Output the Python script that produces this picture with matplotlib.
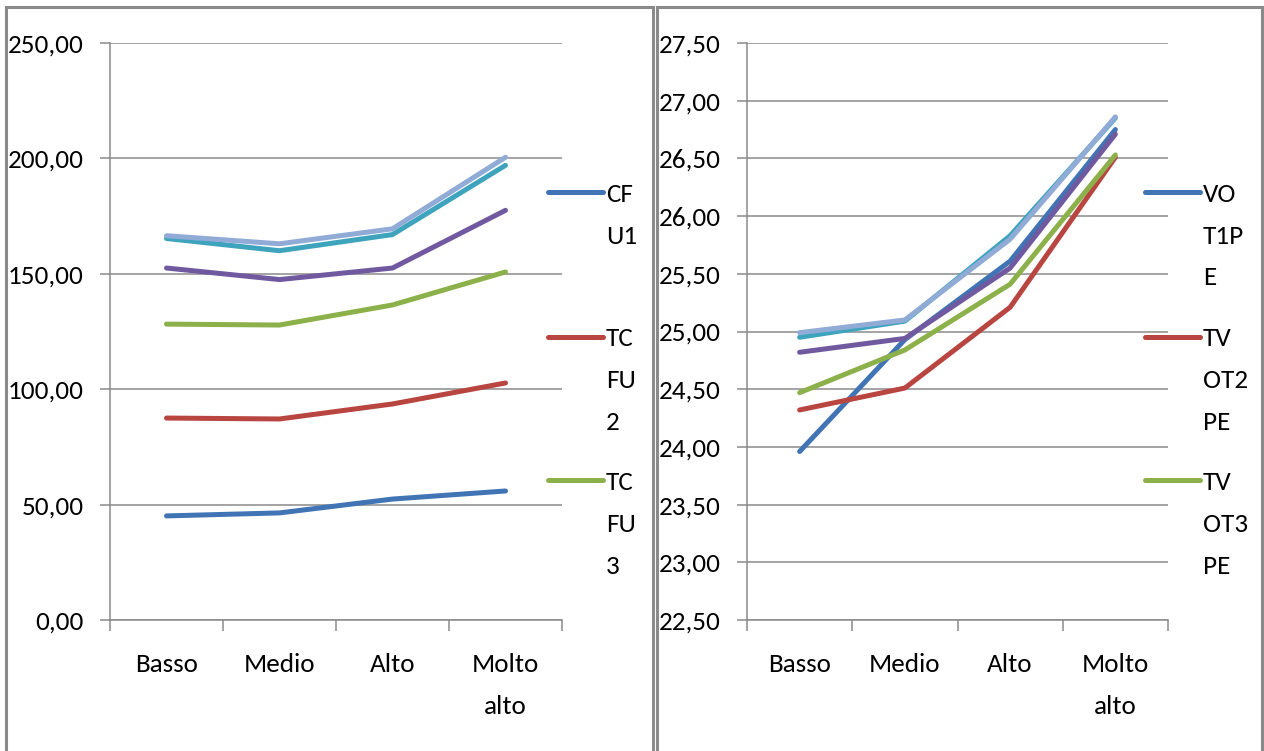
import matplotlib
matplotlib.use('Agg')
import matplotlib.pyplot as plt
from matplotlib import font_manager
from matplotlib.lines import Line2D
from matplotlib.patches import Rectangle
from matplotlib.ticker import FuncFormatter, FixedLocator

# pick a narrow Calibri-like face if one is around
have = {f.name for f in font_manager.fontManager.ttflist}
face = next((f for f in ['Carlito', 'Liberation Sans Narrow', 'Lato'] if f in have), 'DejaVu Sans')
plt.rcParams['font.family'] = [face, 'DejaVu Sans']
FS = 19.5

categories = ['Basso', 'Medio', 'Alto', 'Molto\nalto']

# left panel
left_names = ['CF\nU1', 'TC\nFU\n2', 'TC\nFU\n3']
cfu1 = [45.1, 46.4, 52.4, 55.9]
tcfu2 = [87.5, 87.1, 93.6, 102.7]
tcfu3 = [128.2, 127.8, 136.5, 150.8]
left_s4 = [152.5, 147.5, 152.5, 177.5]
left_s5 = [165.3, 160.0, 167.0, 197.0]
left_s6 = [166.5, 163.0, 169.5, 200.5]

# right panel
right_names = ['VO\nT1P\nE', 'TV\nOT2\nPE', 'TV\nOT3\nPE']
vot1pe = [23.96, 24.93, 25.61, 26.75]
tvot2pe = [24.32, 24.51, 25.21, 26.51]
tvot3pe = [24.47, 24.84, 25.41, 26.53]
right_s4 = [24.82, 24.94, 25.55, 26.71]
right_s5 = [24.95, 25.09, 25.83, 26.85]
right_s6 = [24.99, 25.10, 25.80, 26.86]

colors = ['#4174b4', '#b94541', '#8cb14b', '#7159a0', '#3ea4bd', '#91abd7']
grey = '#8a8a8a'
W, H = 1264, 751

fig = plt.figure(figsize=(W / 100, H / 100), dpi=100)

# panel frames
for x0, x1 in [(6, 653), (657, 1262)]:
    fig.patches.append(Rectangle((x0 / W, -0.05), (x1 - x0) / W, 1.05 - 7 / H,
                                 transform=fig.transFigure, fill=False,
                                 edgecolor=grey, linewidth=2.2))


def fmt(v, pos):
    return f'{v:.2f}'.replace('.', ',')


def setup(ax, ylim, ystep):
    ax.set_xlim(0, len(categories))
    ax.set_ylim(*ylim)
    n = int(round((ylim[1] - ylim[0]) / ystep))
    ax.set_yticks([ylim[0] + i * ystep for i in range(n + 1)])
    ax.yaxis.set_major_formatter(FuncFormatter(fmt))
    ax.xaxis.set_major_locator(FixedLocator(range(len(categories) + 1)))
    ax.xaxis.set_minor_locator(FixedLocator([i + 0.5 for i in range(len(categories))]))
    ax.set_xticklabels([])
    ax.set_xticklabels(categories, minor=True, linespacing=2.0)
    ax.tick_params(axis='x', which='major', length=8, color=grey, width=1.1)
    ax.tick_params(axis='x', which='minor', length=0, pad=24, labelsize=FS)
    ax.tick_params(axis='y', length=7, color=grey, width=1.1, pad=12, labelsize=FS)
    ax.grid(axis='y', color=grey, linewidth=1.1)
    ax.set_axisbelow(True)
    for s in ['top', 'right']:
        ax.spines[s].set_visible(False)
    for s in ['left', 'bottom']:
        ax.spines[s].set_color(grey)
        ax.spines[s].set_linewidth(1.1)


xs = [i + 0.5 for i in range(len(categories))]

axl = fig.add_axes([110 / W, 1 - 620 / H, 452 / W, 577 / H])
setup(axl, (0, 250), 50)
for vals, c in zip([cfu1, tcfu2, tcfu3, left_s4, left_s5, left_s6], colors):
    axl.plot(xs, vals, color=c, linewidth=3.6, solid_capstyle='round', clip_on=False)

axr = fig.add_axes([747 / W, 1 - 620 / H, 421 / W, 577 / H])
setup(axr, (22.5, 27.5), 0.5)
for vals, c in zip([vot1pe, tvot2pe, tvot3pe, right_s4, right_s5, right_s6], colors):
    axr.plot(xs, vals, color=c, linewidth=3.6, solid_capstyle='round', clip_on=False)

# legends (only the first three entries are visible), one text per wrapped line
for (hx0, hx1, tx), names in [((548, 603, 606), left_names), ((1145, 1200, 1203), right_names)]:
    for name, c, ly in zip(names, colors, [192, 337, 480]):
        fig.add_artist(Line2D([hx0 / W, hx1 / W], [1 - ly / H, 1 - ly / H],
                              transform=fig.transFigure, color=c, linewidth=3.6,
                              solid_capstyle='round'))
        for k, part in enumerate(name.split('\n')):
            fig.text(tx / W, 1 - (ly + 42 * k) / H, part, fontsize=FS,
                     va='center_baseline', ha='left')

fig.savefig('out.png', dpi=100, facecolor='white')
